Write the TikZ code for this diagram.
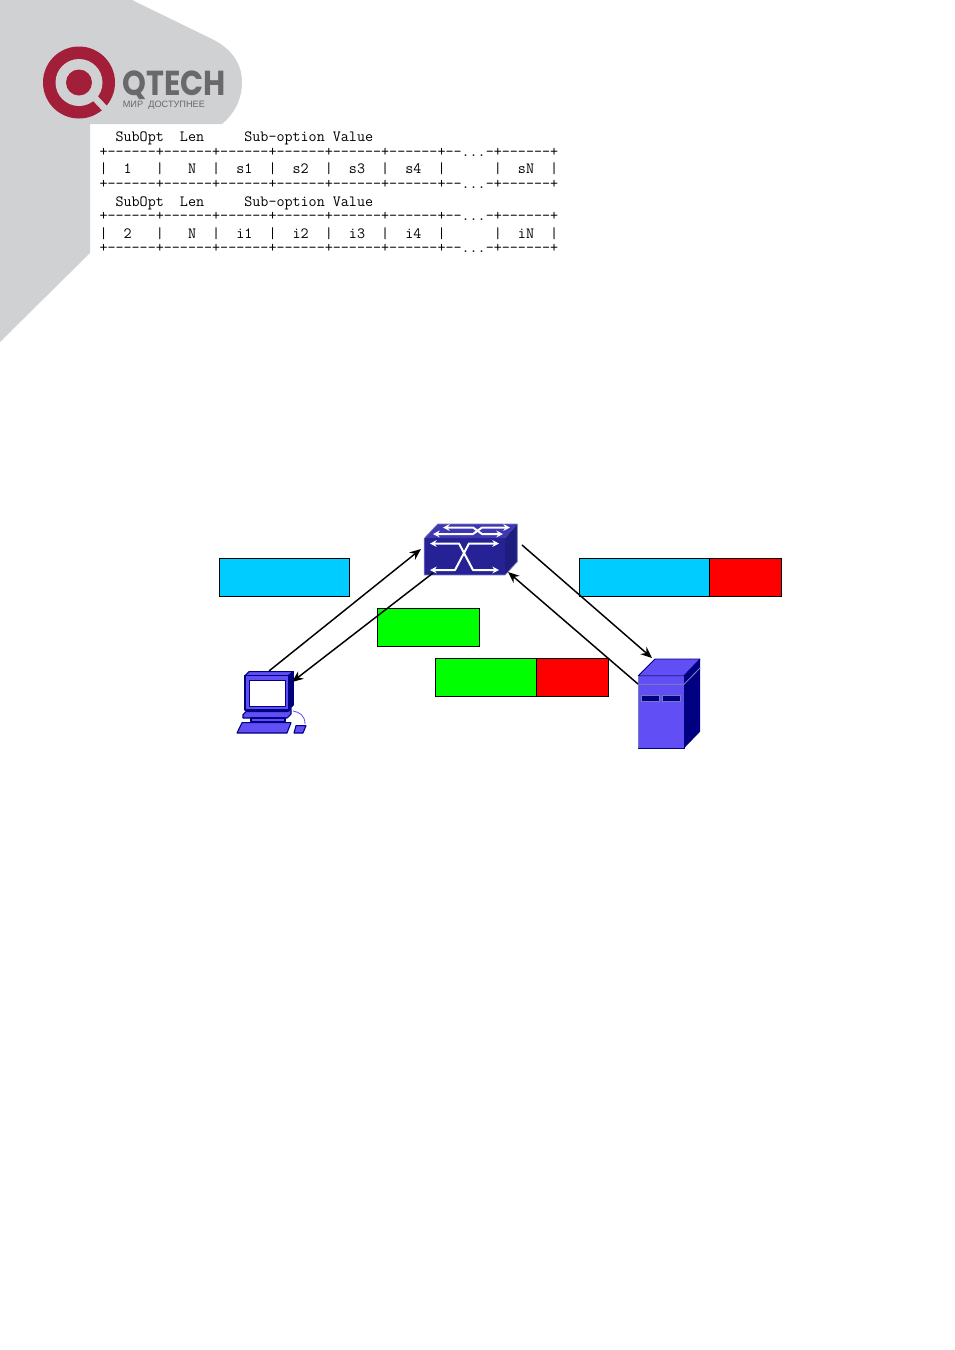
\documentclass[tikz,border=0pt]{standalone}
\usepackage{fontspec}
\usetikzlibrary{arrows.meta}
\newfontfamily\logofont{Liberation Sans}
\newfontfamily\brandfont{Poppins}
\definecolor{bggrey}{RGB}{208,209,211}
\definecolor{logored}{RGB}{163,30,56}
\definecolor{logotext}{RGB}{105,105,107}
\definecolor{pktcyan}{RGB}{0,204,255}
\definecolor{pktgreen}{RGB}{0,255,0}
\definecolor{pktred}{RGB}{255,0,0}
\definecolor{swfront}{RGB}{38,34,150}
\definecolor{swtop}{RGB}{62,56,178}
\definecolor{swside}{RGB}{30,28,125}
\definecolor{swedge}{RGB}{120,120,190}
\definecolor{iconbody}{RGB}{98,78,245}
\definecolor{iconnavy}{RGB}{0,0,128}
\tikzset{
  x=0.75pt,y=-0.75pt,
  pkt/.style={draw=black,line width=0.55pt},
  row/.style={anchor=base west,inner sep=0pt,outer sep=0pt,font=\ttfamily\fontsize{11.72}{14}\selectfont},
  arr/.style={-{Stealth[length=8.5pt,width=7pt]},line width=1.1pt,black},
  wline/.style={white,line width=1.5pt,line join=round,{Stealth[length=5pt,width=5pt]}-{Stealth[length=5pt,width=5pt]}},
  icon/.style={draw=iconnavy,line width=0.8pt,line join=round}
}
\begin{document}
\begin{tikzpicture}
\useasboundingbox (0,0) rectangle (955,1350);
\fill[white] (0,0) rectangle (955,1350);
% page corner
\fill[bggrey] (0,0) -- (132,0) -- (212,39) .. controls (232,49) and (242,64) .. (242,82)
  .. controls (242,100) and (234,114) .. (222,124) -- (90,124) -- (90,253) -- (0,342) -- cycle;
% logo
\fill[logored] (79,82.5) circle (36);
\fill[bggrey] (79,82.5) circle (23.5);
\fill[logored] (79,82.5) circle (13);
\draw[bggrey,line width=5pt] (93,96) -- (111,115);
\node[inner sep=0pt,anchor=base west,text=logotext] (brand) at (122,95)
  {\smash{\scalebox{0.875}[1]{\brandfont\bfseries\fontsize{26}{26}\selectfont QTECH}}};
\node[inner sep=0pt,anchor=base west,text=logotext] (slogan) at (122.5,107.5)
  {\logofont\fontsize{6.9}{7}\selectfont МИР~~ДОСТУПНЕЕ};
% option tables
\node[row] (h1) at (99.5,141) {~~SubOpt~~Len~~~~~Sub-option~Value};
\node[row] (r1) at (99.5,156) {+------+------+------+------+------+------+--...-+------+};
\node[row] (c1) at (99.5,173) {|~~1~~~|~~~N~~|~~s1~~|~~s2~~|~~s3~~|~~s4~~|~~~~~~|~~sN~~|};
\node[row] (r2) at (99.5,188) {+------+------+------+------+------+------+--...-+------+};
\node[row] (h2) at (99.5,206) {~~SubOpt~~Len~~~~~Sub-option~Value};
\node[row] (r3) at (99.5,220) {+------+------+------+------+------+------+--...-+------+};
\node[row] (c2) at (99.5,238) {|~~2~~~|~~~N~~|~~i1~~|~~i2~~|~~i3~~|~~i4~~|~~~~~~|~~iN~~|};
\node[row] (r4) at (99.5,252) {+------+------+------+------+------+------+--...-+------+};
% packets
\draw[pkt,fill=pktcyan] (219.5,558.5) rectangle (349.5,596.5);
\draw[pkt,fill=pktcyan] (579.5,558.5) rectangle (709.5,596.5);
\draw[pkt,fill=pktred] (709.5,558.5) rectangle (781.5,596.5);
\draw[pkt,fill=pktgreen] (377.5,608.5) rectangle (479.5,646.5);
\draw[pkt,fill=pktgreen] (435.5,658.5) rectangle (536.5,696.5);
\draw[pkt,fill=pktred] (536.5,658.5) rectangle (608.5,696.5);
% switch
\node[inner sep=0pt,outer sep=0pt,minimum width=70.5pt,minimum height=38.25pt] (switch) at (471,549.5) {};
\fill[swtop] (424.3,538.3) -- (437.7,524) -- (517.3,524) -- (505,538.3) -- cycle;
\fill[swside] (505,538.3) -- (517.3,524) -- (517.3,561.7) -- (505,575) -- cycle;
\fill[swfront] (424.3,538.3) rectangle (505,575);
\draw[swedge,line width=0.5pt,line join=round] (424.3,575) -- (424.3,538.3) -- (437.7,524) -- (517.3,524) -- (517.3,561.7) -- (505,575) -- cycle;
\draw[wline] (430,543.5) -- (459,543.5) -- (473,570) -- (499,570);
\draw[wline] (430,570) -- (455,570) -- (469,543.5) -- (499,543.5);
\draw[wline] (443,527.5) -- (473,527.5) -- (482,534) -- (503,534);
\draw[wline] (433,534) -- (473,534) -- (482,527.5) -- (510,527.5);
% pc
\node[inner sep=0pt,outer sep=0pt,minimum width=53.25pt,minimum height=48pt] (pc) at (271.5,703) {};
\draw[icon,fill=iconbody] (245,675.7) -- (249,671.7) -- (293.3,671.7) -- (288.3,675.7) -- cycle;
\draw[icon,fill=iconnavy] (288.3,675.7) -- (293.3,671.7) -- (293.3,705) -- (288.3,710) -- cycle;
\draw[icon,fill=iconbody] (245,675.7) rectangle (288.3,710);
\draw[icon,fill=white] (249.3,680.7) rectangle (285.7,706.7);
\draw[icon,fill=iconbody] (246,711.5) -- (288,711.5) -- (291,708.5) -- (291,714) -- (287,718) -- (243,718) -- (243,714.5) -- cycle;
\draw[icon,fill=iconbody] (251,718) rectangle (285,722);
\draw[icon,fill=iconbody] (242,722.7) -- (291,722.7) -- (287,733) -- (237,733) -- cycle;
\draw[icon,fill=iconbody] (296,725.7) -- (306,725.7) -- (303,733) -- (294,733) -- cycle;
\draw[iconbody,line width=0.6pt] (293,711) .. controls (300,712) and (305,716) .. (305,724);
% server
\node[inner sep=0pt,outer sep=0pt,minimum width=47.25pt,minimum height=67.5pt] (server) at (669.5,704) {};
\fill[iconbody] (638.3,675.7) -- (655,659) -- (700,659) -- (684,675.7) -- cycle;
\fill[iconnavy] (684,675.7) -- (700,659) -- (700,731.7) -- (684,748.3) -- cycle;
\fill[iconbody] (638.3,675.7) rectangle (684,748.3);
\draw[iconnavy,line width=0.6pt,line join=round] (638.3,675.7) -- (655,659) -- (700,659) -- (684,675.7) -- cycle;
\draw[iconnavy,line width=0.6pt] (684,675.7) -- (684,748.3) -- (638.3,748.3);
\draw[swedge,line width=0.7pt] (638.3,675.7) -- (638.3,748.3);
\draw[swedge,line width=0.7pt] (638.3,684.3) -- (684,684.3) -- (700,668);
\fill[iconnavy] (641,695) rectangle (659.3,701.7);
\fill[iconnavy] (662.3,695) rectangle (680,701.7);
\draw[swedge,line width=0.4pt] (641,695) rectangle (659.3,701.7);
\draw[swedge,line width=0.4pt] (662.3,695) rectangle (680,701.7);
% connectors
\draw[arr] ([shift={(-2.5,0)}]pc.north) -- ([shift={(-3,-0.5)}]switch.west);
\draw[arr] ([shift={(9,-2)}]switch.south west) -- ([shift={(-15,11)}]pc.north east);
\draw[arr] ([shift={(4,-4.5)}]switch.east) -- ([shift={(-17.5,-1)}]server.north);
\draw[arr] ([shift={(0,25)}]server.north west) -- ([shift={(-10,-3)}]switch.south east);
\end{tikzpicture}
\end{document}
